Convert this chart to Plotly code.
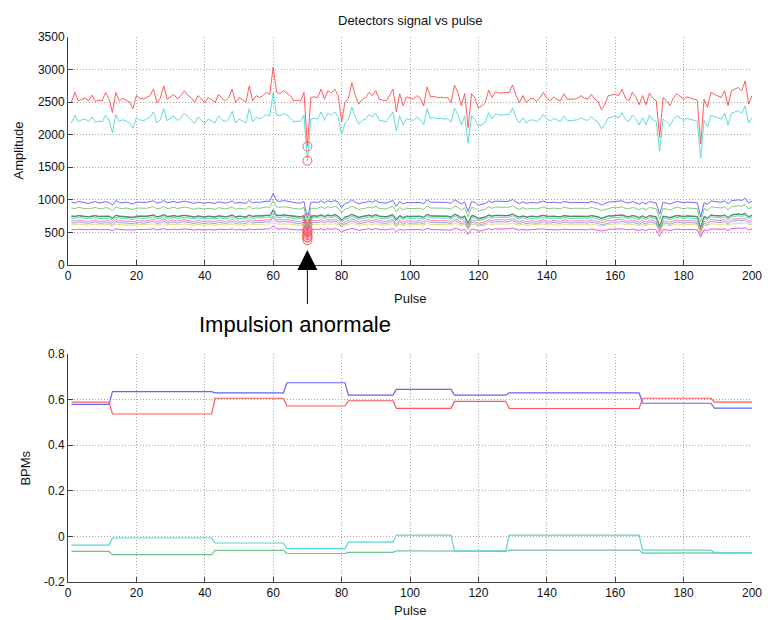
import plotly.graph_objects as go

pulse = list(range(1, 201))

det_red_top = [
    2500,2650,2520,2545,2560,2520,2607,2510,2530,2520,
    2650,2545,2340,2650,2520,2560,2535,2500,2400,2600,
    2560,2545,2570,2600,2700,2495,2560,2750,2545,2580,
    2620,2545,2600,2675,2610,2570,2495,2600,2550,2495,
    2570,2540,2495,2620,2560,2520,2570,2700,2495,2570,
    2540,2495,2750,2520,2600,2570,2600,2650,2620,3040,
    2650,2630,2675,2640,2600,2520,2530,2520,2650,1820,
    2570,2580,2570,2700,2545,2675,2640,2700,2600,2200,
    2495,2560,2800,2600,2470,2540,2570,2650,2600,2675,
    2545,2530,2520,2600,2700,2350,2630,2445,2580,2560,
    2545,2600,2560,2445,2735,2580,2590,2570,2575,2565,
    2570,2495,2760,2650,2445,2630,2110,2630,2560,2410,
    2440,2495,2685,2570,2660,2640,2640,2640,2650,2765,
    2600,2495,2600,2495,2545,2560,2510,2570,2650,2560,
    2520,2580,2540,2520,2630,2545,2540,2545,2560,2600,
    2560,2545,2620,2550,2510,2380,2470,2600,2610,2620,
    2600,2700,2560,2520,2650,2580,2460,2600,2460,2640,
    2560,2520,1960,2570,2520,2445,2560,2630,2590,2545,
    2580,2560,2545,2530,1860,2545,2420,2650,2620,2600,
    2570,2675,2445,2675,2700,2725,2675,2825,2470,2600,
]

det_cyan_top = [
    2180,2300,2200,2230,2240,2200,2270,2190,2210,2200,
    2300,2220,2030,2310,2200,2230,2210,2180,2100,2260,
    2230,2215,2240,2270,2350,2180,2230,2400,2215,2250,
    2290,2215,2260,2330,2280,2240,2180,2270,2220,2170,
    2240,2215,2180,2290,2230,2200,2240,2360,2180,2240,
    2215,2180,2400,2200,2270,2240,2270,2310,2290,2650,
    2300,2290,2320,2300,2260,2200,2210,2200,2300,1600,
    2240,2250,2240,2350,2220,2330,2300,2350,2270,2000,
    2180,2230,2420,2270,2160,2220,2240,2310,2270,2330,
    2220,2210,2200,2270,2350,2060,2290,2150,2250,2230,
    2220,2270,2230,2150,2400,2250,2260,2245,2250,2240,
    2245,2190,2410,2310,2150,2290,1870,2290,2230,2130,
    2150,2190,2340,2240,2320,2300,2300,2300,2310,2410,
    2260,2180,2260,2180,2220,2230,2200,2240,2310,2240,
    2210,2250,2220,2200,2290,2220,2215,2220,2230,2260,
    2230,2220,2280,2225,2195,2090,2160,2260,2270,2280,
    2260,2340,2230,2200,2300,2250,2150,2260,2150,2300,
    2230,2200,1750,2240,2200,2140,2230,2290,2255,2220,
    2250,2230,2220,2210,1640,2220,2120,2300,2280,2260,
    2240,2330,2150,2330,2350,2370,2330,2440,2180,2260,
]

det_blue = [
    965,950,975,960,955,945,960,975,950,955,
    970,960,920,990,960,955,965,950,935,965,
    960,955,960,975,985,950,960,990,955,965,
    975,955,965,980,970,960,945,965,955,945,
    960,955,945,970,960,950,960,985,945,960,
    955,945,990,955,965,960,970,980,975,1100,
    985,975,990,980,970,955,950,950,975,720,
    960,965,960,985,955,985,970,990,965,880,
    945,960,1000,965,940,955,960,980,965,990,
    960,955,950,970,990,900,975,935,960,955,
    955,965,960,940,1000,965,965,960,960,960,
    960,945,1000,975,935,970,820,975,960,920,
    930,945,985,960,980,975,975,975,980,1005,
    965,945,970,945,955,960,950,960,980,960,
    955,965,955,950,975,960,955,960,960,970,
    960,955,975,960,950,920,940,965,970,975,
    970,985,960,950,975,960,935,965,935,975,
    960,950,780,960,950,935,955,975,965,955,
    965,960,955,955,740,955,930,985,975,970,
    965,985,935,985,990,1000,990,1025,950,980,
]

det_green = [
    875,865,885,870,865,860,875,885,865,865,
    880,870,835,895,870,865,875,860,850,875,
    870,865,870,885,895,860,870,900,865,875,
    885,865,875,890,880,870,855,875,865,855,
    870,865,855,880,870,860,870,895,855,870,
    865,855,900,865,875,870,880,890,885,990,
    890,885,895,890,880,865,860,860,885,620,
    870,875,870,895,865,895,880,900,875,800,
    855,870,905,875,850,865,870,890,875,900,
    870,865,860,880,900,815,885,845,870,865,
    865,875,870,850,905,875,875,870,870,870,
    870,855,905,885,845,880,740,885,870,830,
    840,855,895,870,890,885,885,885,890,910,
    875,855,880,855,865,870,860,870,890,870,
    865,875,865,860,885,870,865,870,870,880,
    870,865,885,870,860,835,850,875,880,885,
    880,895,870,860,885,870,845,875,845,885,
    870,860,700,870,860,845,865,885,875,865,
    875,870,865,865,660,865,840,895,885,880,
    875,895,845,895,900,910,900,930,860,890,
]

det_darkgreen = [
    745,740,755,745,740,735,745,755,740,740,
    750,745,715,760,745,740,745,735,725,745,
    745,740,745,755,765,735,745,770,740,745,
    755,740,750,760,750,745,730,750,740,730,
    745,740,730,750,745,735,745,765,730,745,
    740,730,765,740,750,745,750,760,755,840,
    760,755,765,760,750,740,735,735,755,520,
    745,750,745,765,740,765,750,770,745,680,
    730,745,775,750,725,740,745,760,745,770,
    745,740,735,750,770,690,755,720,745,740,
    740,750,745,725,775,750,750,745,745,745,
    745,730,775,755,720,750,630,755,745,705,
    715,730,765,745,760,755,755,755,760,780,
    750,730,750,730,740,745,735,745,760,745,
    740,750,740,735,755,745,740,745,745,750,
    745,740,755,745,735,710,725,750,750,755,
    750,765,745,735,755,745,720,750,720,755,
    745,735,580,745,735,720,740,755,750,740,
    750,745,740,740,560,740,715,765,755,750,
    750,765,720,765,770,780,770,790,735,760,
]

det_black = [
    755,748,760,752,750,742,752,760,748,750,
    758,752,725,765,752,748,752,742,735,752,
    752,748,752,760,770,742,752,775,748,752,
    760,748,755,765,758,752,740,755,748,740,
    752,748,740,758,752,742,752,770,740,752,
    748,740,770,748,755,752,758,765,760,850,
    768,760,770,765,758,748,742,742,760,540,
    752,758,752,770,748,770,758,775,752,690,
    740,752,780,758,735,748,752,765,752,775,
    752,748,742,758,775,700,760,730,752,748,
    748,755,752,735,780,755,755,752,752,752,
    752,740,780,760,730,755,640,760,752,715,
    725,740,770,752,765,760,760,760,765,785,
    755,740,755,740,748,752,742,752,765,752,
    748,755,748,742,760,752,748,752,752,755,
    752,748,760,752,742,720,735,755,755,760,
    755,770,752,742,760,752,730,755,730,760,
    752,742,595,752,742,730,748,760,755,748,
    755,752,748,748,575,748,725,770,760,755,
    755,770,730,770,775,785,775,795,742,765,
]

det_cyan = [
    720,712,730,720,715,708,720,730,712,715,
    725,718,690,735,720,715,720,710,700,720,
    718,712,718,730,740,708,718,745,712,720,
    730,712,722,735,725,718,705,722,712,705,
    718,712,705,725,718,708,718,740,705,718,
    712,705,740,712,722,718,725,735,730,800,
    735,730,740,735,725,712,708,708,730,500,
    720,725,720,740,712,740,725,745,720,660,
    705,718,750,725,700,712,718,735,720,745,
    720,712,708,725,745,665,730,695,720,712,
    712,722,718,700,750,722,722,718,718,718,
    718,705,750,730,695,725,610,730,718,680,
    690,705,740,718,735,730,730,730,735,755,
    722,705,725,705,712,718,708,718,735,718,
    712,722,712,708,730,718,712,718,718,725,
    718,712,730,718,708,685,700,722,725,730,
    725,740,718,708,730,718,695,722,695,730,
    718,708,560,718,708,695,712,730,722,712,
    722,718,712,712,540,712,690,740,730,722,
    722,740,695,740,745,755,745,765,712,735,
]

det_red = [
    680,672,690,680,676,668,680,690,672,676,
    685,678,650,695,680,676,680,670,660,680,
    678,672,678,690,700,668,678,705,672,680,
    690,672,682,695,685,678,665,682,672,665,
    678,672,665,685,678,668,678,700,665,678,
    672,665,700,672,682,678,685,695,690,760,
    695,690,700,695,685,672,668,668,690,460,
    680,685,680,700,672,700,685,705,680,620,
    665,678,710,685,660,672,678,695,680,705,
    680,672,668,685,705,625,690,655,680,672,
    672,682,678,660,710,682,682,678,678,678,
    678,665,710,690,655,685,575,690,678,640,
    650,665,700,678,695,690,690,690,695,715,
    682,665,685,665,672,678,668,678,695,678,
    672,682,672,668,690,678,672,678,678,685,
    678,672,690,678,668,645,660,682,685,690,
    685,700,678,668,690,678,655,682,655,690,
    678,668,525,678,668,655,672,690,682,672,
    682,678,672,672,500,672,650,700,690,682,
    682,700,655,700,705,715,705,725,672,695,
]

det_periwinkle = [
    650,642,660,650,646,638,650,660,642,646,
    655,648,620,665,650,646,650,640,630,650,
    648,642,648,660,670,638,648,675,642,650,
    660,642,652,665,655,648,635,652,642,635,
    648,642,635,655,648,638,648,670,635,648,
    642,635,670,642,652,648,655,665,660,730,
    665,660,670,665,655,642,638,638,660,430,
    650,655,650,670,642,670,655,675,650,590,
    635,648,680,655,630,642,648,665,650,675,
    650,642,638,655,675,595,660,625,650,642,
    642,652,648,630,680,652,652,648,648,648,
    648,635,680,660,625,655,545,660,648,610,
    620,635,670,648,665,660,660,660,665,685,
    652,635,655,635,642,648,638,648,665,648,
    642,652,642,638,660,648,642,648,648,655,
    648,642,660,648,638,615,630,652,655,660,
    655,670,648,638,660,648,625,652,625,660,
    648,638,495,648,638,625,642,660,652,642,
    652,648,642,642,470,642,620,670,660,652,
    652,670,625,670,675,685,675,695,642,665,
]

det_yellow = [
    620,615,628,620,617,612,620,626,615,617,
    624,619,600,630,620,617,620,614,608,620,
    619,615,619,626,632,612,619,635,615,620,
    626,615,622,630,624,619,610,622,615,610,
    619,615,610,624,619,612,619,632,610,619,
    615,610,632,615,622,619,624,630,627,680,
    630,627,632,630,624,615,612,612,627,420,
    620,624,620,632,615,632,624,635,620,580,
    610,619,638,624,606,615,619,630,620,635,
    620,615,612,624,635,585,627,605,620,615,
    615,622,619,606,638,622,622,619,619,619,
    619,610,638,627,605,624,540,627,619,595,
    600,610,632,619,630,627,627,627,630,642,
    622,610,624,610,615,619,612,619,630,619,
    615,622,615,612,627,619,615,619,619,624,
    619,615,627,619,612,598,606,622,624,627,
    624,632,619,612,627,619,603,622,603,627,
    619,612,500,619,612,603,615,627,622,615,
    622,619,615,615,485,615,600,632,627,622,
    622,632,603,632,635,642,635,650,615,627,
]

det_magenta = [
    545,540,550,545,542,538,545,550,540,542,
    548,544,525,555,545,542,545,540,535,545,
    544,540,544,550,556,538,544,560,540,545,
    550,540,546,555,548,544,535,546,540,535,
    544,540,535,548,544,538,544,556,535,544,
    540,535,556,540,546,544,548,555,552,600,
    555,552,556,555,548,540,538,538,552,380,
    545,548,545,556,540,556,548,560,545,505,
    535,544,562,548,532,540,544,555,545,560,
    545,540,538,548,560,510,552,530,545,540,
    540,546,544,532,562,546,546,544,544,544,
    544,535,562,552,530,548,470,552,544,520,
    525,535,556,544,555,552,552,552,555,568,
    546,535,548,535,540,544,538,544,555,544,
    540,546,540,538,552,544,540,544,544,548,
    544,540,552,544,538,522,530,546,548,552,
    548,556,544,538,552,544,528,546,528,552,
    544,538,440,544,538,528,540,552,546,540,
    546,544,540,540,430,540,525,556,552,546,
    546,556,528,556,560,568,560,575,540,552,
]

anomalous_pulse = 70

# BPM readings: constant over runs of pulses (run lengths in pulses)
bpm_run_lengths = [12, 30, 21, 18, 14, 17, 16, 39, 21, 12]
bpm_blue_levels = [0.579, 0.635, 0.630, 0.674, 0.620, 0.645, 0.620, 0.630, 0.584, 0.563]
bpm_red_levels = [0.589, 0.537, 0.606, 0.572, 0.595, 0.562, 0.592, 0.561, 0.606, 0.589]
bpm_cyan_levels = [-0.038, -0.007, -0.029, -0.054, -0.025, 0.006, -0.063, 0.006, -0.060, -0.072]
bpm_green_levels = [-0.066, -0.080, -0.061, -0.075, -0.070, -0.063, -0.066, -0.060, -0.073, -0.072]

y1_ticks = [0, 500, 1000, 1500, 2000, 2500, 3000, 3500]
y2_ticks = [-0.2, 0, 0.2, 0.4, 0.6, 0.8]
y2_ticktext = ["-0.2", "0", "0.2", "0.4", "0.6", "0.8"]
x_ticks = list(range(0, 201, 20))


def expand(levels, runs):
    out = []
    for lv, n in zip(levels, runs):
        out.extend([lv] * n)
    return out


top_series = [
    (det_blue, "#5a5aff"),
    (det_green, "#74c474"),
    (det_black, "#6a6a6a"),
    (det_darkgreen, "#2a9048"),
    (det_cyan, "#3fcfcf"),
    (det_red, "#ff7a7a"),
    (det_periwinkle, "#8c8cff"),
    (det_yellow, "#dada6a"),
    (det_magenta, "#e040e0"),
    (det_cyan_top, "#4fd6d6"),
    (det_red_top, "#ff4a4a"),
]

fig = go.Figure()
for ys, col in top_series:
    fig.add_trace(go.Scatter(x=pulse, y=ys, mode="lines",
                             line=dict(color=col, width=0.9),
                             xaxis="x", yaxis="y", hoverinfo="skip"))

idx = pulse.index(anomalous_pulse)
fig.add_trace(go.Scatter(
    x=[anomalous_pulse] * len(top_series),
    y=[s[idx] for s, _ in top_series],
    mode="markers",
    marker=dict(symbol="circle-open", color="#ff5a5a", size=9, line=dict(width=1)),
    xaxis="x", yaxis="y", hoverinfo="skip"))

bottom_series = [
    (bpm_blue_levels, "#6464ff"),
    (bpm_red_levels, "#ff5a5a"),
    (bpm_green_levels, "#6cc48e"),
    (bpm_cyan_levels, "#5ad6d6"),
]
for lv, col in bottom_series:
    fig.add_trace(go.Scatter(x=pulse, y=expand(lv, bpm_run_lengths), mode="lines",
                             line=dict(color=col, width=1.2),
                             xaxis="x2", yaxis="y2", hoverinfo="skip"))

FONT = "Liberation Sans"
axis_common = dict(
    showgrid=True, gridcolor="#a8a8a8", griddash="1px,2px", gridwidth=1,
    zeroline=False, showline=True, linecolor="#404040", linewidth=1,
    ticks="inside", ticklen=5, tickcolor="#404040",
    tickfont=dict(family=FONT, size=12, color="#111"),
    mirror=False,
)

fig.update_layout(
    width=774, height=620,
    margin=dict(l=68, r=14, t=37, b=38),
    paper_bgcolor="white", plot_bgcolor="white",
    showlegend=False,
    xaxis=dict(domain=[0, 1], range=[0, 200], tickvals=x_ticks, anchor="y", **axis_common),
    yaxis=dict(domain=[0.5817, 1], range=[0, 3500], tickvals=y1_ticks, anchor="x", **axis_common),
    xaxis2=dict(domain=[0, 1], range=[0, 200], tickvals=x_ticks, anchor="y2", **axis_common),
    yaxis2=dict(domain=[0, 0.4183], range=[-0.2, 0.8], tickvals=y2_ticks, ticktext=y2_ticktext,
                anchor="x2", **axis_common),
    annotations=[
        dict(text="Detectors signal vs pulse", xref="paper", yref="paper", x=0.5, y=1.031,
             xanchor="center", yanchor="middle",
             showarrow=False, font=dict(family=FONT, size=13, color="#111")),
        dict(text="Amplitude", xref="paper", yref="paper", x=-0.0723, y=0.791, textangle=-90,
             xanchor="center", yanchor="middle",
             showarrow=False, font=dict(family=FONT, size=13, color="#111")),
        dict(text="Pulse", xref="paper", yref="paper", x=0.5, y=0.521,
             xanchor="center", yanchor="middle",
             showarrow=False, font=dict(family=FONT, size=13, color="#111")),
        dict(text="BPMs", xref="paper", yref="paper", x=-0.0621, y=0.209, textangle=-90,
             xanchor="center", yanchor="middle",
             showarrow=False, font=dict(family=FONT, size=13, color="#111")),
        dict(text="Pulse", xref="paper", yref="paper", x=0.5, y=-0.0514,
             xanchor="center", yanchor="middle",
             showarrow=False, font=dict(family=FONT, size=13, color="#111")),
        dict(text="Impulsion anormale", xref="paper", yref="paper", x=0.332, y=0.4716,
             xanchor="center", yanchor="middle",
             showarrow=False, font=dict(family=FONT, size=22, color="#000")),
        dict(text=" ", x=anomalous_pulse, y=230, xref="x", yref="y", showarrow=True,
             ax=0, ay=57, arrowhead=2, arrowsize=4, arrowwidth=1, arrowcolor="#000",
             font=dict(size=2)),
    ],
)

fig.write_html("out.html")
